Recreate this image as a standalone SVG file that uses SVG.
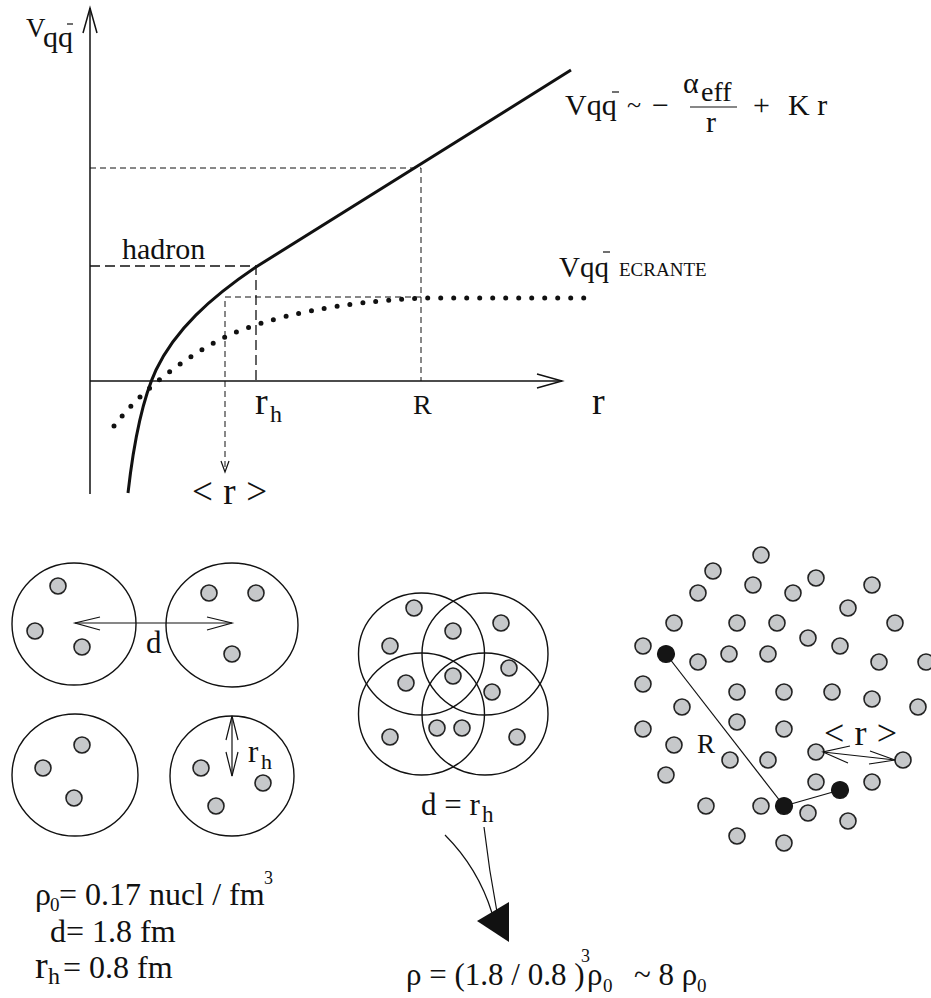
<svg xmlns="http://www.w3.org/2000/svg" width="931" height="998" viewBox="0 0 931 998">
<style>
  text { font-family: "Liberation Serif", "Times New Roman", serif; fill: #111; }
  .ax { stroke: #111; stroke-width: 1.5; fill: none; }
  .thin { stroke: #111; stroke-width: 1.2; fill: none; }
  .dashA { stroke: #111; stroke-width: 1.3; fill: none; stroke-dasharray: 10 5; }
  .dashB { stroke: #111; stroke-width: 1; fill: none; stroke-dasharray: 6 4; }
  .solid { stroke: #111; stroke-width: 3; fill: none; }
  .dotted { stroke: #111; stroke-width: 5; fill: none; stroke-linecap: round; stroke-dasharray: 0 13; }
  .ring { fill: none; stroke: #111; stroke-width: 1.4; }
  .dot { fill: #c6c8ca; stroke: #222; stroke-width: 1.6; }
  .bdot { fill: #151515; stroke: #151515; stroke-width: 1.2; }
</style>
<defs>
  <circle id="n" r="8" class="dot"/>
  <circle id="b" r="8.5" class="bdot"/>
</defs>

<g id="plot">
  <g id="axes">
    <line class="ax" x1="90" y1="8" x2="90" y2="494"/>
    <polyline class="ax" points="83,33 90,8 97,33"/>
    <line class="ax" x1="90" y1="381" x2="562" y2="381"/>
    <polyline class="ax" points="537,374 562,381 537,388"/>
  </g>
  <g id="guides">
    <polyline class="dashA" points="90,266 256,266 256,381"/>
    <polyline class="dashB" points="90,168 421,168 421,381"/>
    <polyline class="dashB" points="421,297 225,297 225,470"/>
    <polyline class="thin" points="221,461 225,472 229,461"/>
  </g>
  <g id="curve-confined">
    <path class="solid" d="M128,493 C134,440 142,400 156,370 C175,330 210,298 256,267 L571,70"/>
  </g>
  <g id="curve-screened">
    <path class="dotted" d="M114,426 C140,392 180,360 225,337 C270,316 340,302 422,298 L585,298"/>
  </g>
  <g id="label-v">
    <text x="26" y="37" font-size="27">V</text>
    <text x="43" y="47" font-size="30">qq</text>
    <line x1="67" y1="24" x2="73" y2="24" stroke="#111" stroke-width="1.2"/>
  </g>
  <g id="label-formula">
    <text x="565" y="115" font-size="30">Vqq</text>
    <line x1="612" y1="92" x2="619" y2="92" stroke="#111" stroke-width="1.2"/>
    <text x="627" y="113" font-size="26">~</text>
    <text x="652" y="115" font-size="30">−</text>
    <text x="683" y="93" font-size="30">α</text>
    <text x="701" y="101" font-size="28">eff</text>
    <line x1="690" y1="107" x2="737" y2="107" stroke="#111" stroke-width="1.2"/>
    <text x="706" y="132" font-size="30">r</text>
    <text x="753" y="115" font-size="30">+</text>
    <text x="788" y="115" font-size="30">K r</text>
  </g>
  <g id="label-ecrante">
    <text x="559" y="277" font-size="29">Vqq</text>
    <line x1="603" y1="252" x2="610" y2="252" stroke="#111" stroke-width="1.2"/>
    <text x="619" y="276" font-size="19">ECRANTE</text>
  </g>
  <g id="label-hadron"><text x="122" y="259" font-size="30">hadron</text></g>
  <g id="label-rh">
    <text x="255" y="414" font-size="38">r</text>
    <text x="270" y="422" font-size="24">h</text>
  </g>
  <g id="label-R"><text x="413" y="414" font-size="28">R</text></g>
  <g id="label-r"><text x="592" y="414" font-size="38">r</text></g>
  <g id="label-mean-r"><text x="192" y="504" font-size="37" textLength="75" lengthAdjust="spacing">&lt; r &gt;</text></g>
</g>

<g id="hadron-1">
  <ellipse class="ring" cx="74" cy="624" rx="62" ry="61"/>
  <use href="#n" x="58" y="586"/><use href="#n" x="35" y="631"/><use href="#n" x="82" y="647"/>
</g>
<g id="hadron-2">
  <ellipse class="ring" cx="232" cy="625" rx="66" ry="62"/>
  <use href="#n" x="209" y="593"/><use href="#n" x="256" y="593"/><use href="#n" x="232" y="654"/>
</g>
<g id="hadron-3">
  <ellipse class="ring" cx="75" cy="775" rx="63" ry="61"/>
  <use href="#n" x="82" y="745"/><use href="#n" x="43" y="768"/><use href="#n" x="74" y="798"/>
</g>
<g id="hadron-4">
  <ellipse class="ring" cx="232" cy="776" rx="62" ry="60"/>
  <use href="#n" x="201" y="768"/><use href="#n" x="263" y="783"/><use href="#n" x="216" y="806"/>
</g>

<g id="overlap">
  <ellipse class="ring" cx="421.5" cy="654" rx="63" ry="61"/>
  <ellipse class="ring" cx="485" cy="654" rx="63" ry="61"/>
  <ellipse class="ring" cx="421.5" cy="714" rx="63" ry="61"/>
  <ellipse class="ring" cx="485" cy="714" rx="63" ry="61"/>
  <use href="#n" x="414" y="608"/><use href="#n" x="390" y="646"/><use href="#n" x="453" y="631"/>
  <use href="#n" x="501" y="623"/><use href="#n" x="406" y="683"/><use href="#n" x="453" y="676"/>
  <use href="#n" x="509" y="668"/><use href="#n" x="492" y="692"/><use href="#n" x="390" y="737"/>
  <use href="#n" x="437" y="728"/><use href="#n" x="462" y="728"/><use href="#n" x="517" y="737"/>
</g>
<g id="label-d-eq-rh">
  <text x="421" y="815" font-size="31">d = r</text>
  <text x="482" y="822" font-size="23">h</text>
</g>

<g id="plasma">
  <use href="#n" x="761" y="555"/><use href="#n" x="713" y="571"/><use href="#n" x="753" y="585"/>
  <use href="#n" x="816" y="578"/><use href="#n" x="698" y="593"/><use href="#n" x="793" y="593"/>
  <use href="#n" x="872" y="585"/><use href="#n" x="848" y="608"/><use href="#n" x="674" y="623"/>
  <use href="#n" x="737" y="623"/><use href="#n" x="777" y="623"/><use href="#n" x="895" y="623"/>
  <use href="#n" x="808" y="638"/><use href="#n" x="840" y="646"/><use href="#n" x="643" y="646"/>
  <use href="#n" x="698" y="662"/><use href="#n" x="729" y="654"/><use href="#n" x="768" y="654"/>
  <use href="#n" x="879" y="662"/><use href="#n" x="926" y="662"/><use href="#n" x="643" y="684"/>
  <use href="#n" x="737" y="692"/><use href="#n" x="784" y="692"/><use href="#n" x="832" y="692"/>
  <use href="#n" x="872" y="699"/><use href="#n" x="918" y="707"/><use href="#n" x="682" y="707"/>
  <use href="#n" x="643" y="729"/><use href="#n" x="737" y="722"/><use href="#n" x="784" y="729"/>
  <use href="#n" x="674" y="745"/><use href="#n" x="730" y="760"/><use href="#n" x="768" y="760"/>
  <use href="#n" x="816" y="752"/><use href="#n" x="903" y="760"/><use href="#n" x="666" y="775"/>
  <use href="#n" x="816" y="782"/><use href="#n" x="872" y="782"/><use href="#n" x="706" y="806"/>
  <use href="#n" x="761" y="806"/><use href="#n" x="808" y="813"/><use href="#n" x="848" y="821"/>
  <use href="#n" x="737" y="836"/><use href="#n" x="784" y="843"/>
</g>
<g id="plasma-connectors">
  <line class="thin" x1="666" y1="654" x2="784" y2="806" stroke-width="1"/>
  <line class="thin" x1="784" y1="806" x2="840" y2="790"/>
</g>
<g id="plasma-black">
  <use href="#b" x="666" y="654"/><use href="#b" x="840" y="790"/><use href="#b" x="784" y="806"/>
</g>
<g id="label-plasma">
  <text x="697" y="753" font-size="27">R</text>
  <text x="824" y="745" font-size="36" textLength="73" lengthAdjust="spacing">&lt; r &gt;</text>
</g>

<g id="connectors">
  <line class="thin" x1="75" y1="623" x2="232" y2="623"/>
  <polyline class="thin" points="100,617 75,623 100,630"/>
  <polyline class="thin" points="207,617 232,623 207,630"/>
  <line class="thin" x1="232" y1="716" x2="232" y2="776"/>
  <polyline class="thin" points="226,740 232,716 238,740"/>
  <polyline class="thin" points="226,752 232,776 238,752"/>
  <line class="thin" x1="823" y1="752" x2="895" y2="760"/>
  <polyline class="thin" points="850,746 823,752 848,763"/>
  <polyline class="thin" points="870,751 895,760 869,764"/>
  <path class="thin" d="M445,835 Q478,868 492,913" stroke-width="1"/>
  <path class="thin" d="M484,827 Q489,870 497,912" stroke-width="1"/>
  <polygon points="477,921 509,902 509,942" fill="#111"/>
</g>
<g id="label-d"><text x="146" y="653" font-size="31">d</text></g>
<g id="label-rh2">
  <text x="248" y="762" font-size="31">r</text>
  <text x="261" y="769" font-size="22">h</text>
</g>

<g id="text-rho0">
  <text x="35" y="905" font-size="32">ρ</text>
  <text x="50" y="911" font-size="19">0</text>
  <text x="59" y="905" font-size="32">= 0.17 nucl / fm</text>
  <text x="264" y="884" font-size="18">3</text>
</g>
<g id="text-d"><text x="50" y="942" font-size="32">d= 1.8 fm</text></g>
<g id="text-rh">
  <text x="35" y="978" font-size="38">r</text>
  <text x="48" y="984" font-size="24">h</text>
  <text x="63" y="978" font-size="32">= 0.8 fm</text>
</g>
<g id="text-rho">
  <text x="406" y="985" font-size="31">ρ = (1.8 / 0.8 )</text>
  <text x="581" y="962" font-size="18">3</text>
  <text x="587" y="985" font-size="31">ρ</text>
  <text x="603" y="992" font-size="19">0</text>
  <text x="634" y="985" font-size="31">~ 8 ρ</text>
  <text x="697" y="992" font-size="19">0</text>
</g>
</svg>
